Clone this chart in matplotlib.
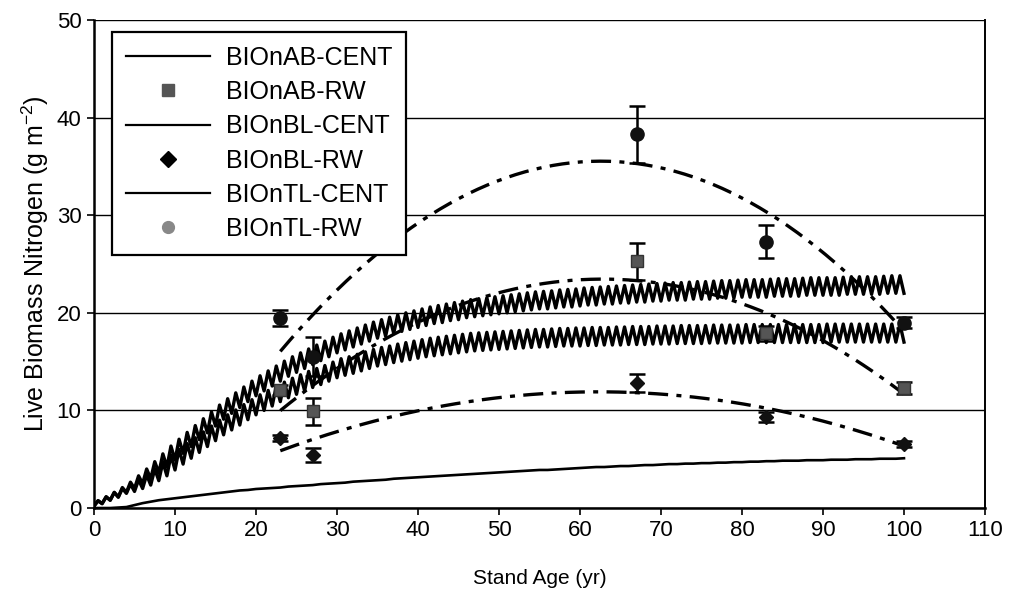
import numpy as np
import matplotlib
matplotlib.use("Agg")
import matplotlib.pyplot as plt
from matplotlib.lines import Line2D

plt.rcParams['font.family'] = ['Liberation Sans', 'DejaVu Sans']

# ---- CENTURY model output: winter (integer years) and summer (mid-year) values ----
tl_lo = [0.2, 0.45, 0.8, 1.15, 1.6, 2.0, 2.5, 3.0, 3.6, 4.2, 4.9, 5.6, 6.3, 7.0, 7.7, 8.4, 9.1, 9.7,
         10.3, 10.9, 11.5, 12.0, 12.5, 13.0, 13.5, 13.9, 14.3, 14.7, 15.1, 15.5, 15.9, 16.2, 16.5,
         16.8, 17.1, 17.4, 17.6, 17.9, 18.1, 18.3, 18.5, 18.7, 18.9, 19.0, 19.2, 19.3, 19.5, 19.6,
         19.7, 19.8, 19.9, 20.0, 20.1, 20.2, 20.3, 20.4, 20.4, 20.5, 20.6, 20.6, 20.7, 20.8, 20.8,
         20.9, 20.9, 21.0, 21.0, 21.1, 21.1, 21.2, 21.2, 21.3, 21.3, 21.3, 21.4, 21.4, 21.4, 21.5,
         21.5, 21.5, 21.6, 21.6, 21.6, 21.6, 21.7, 21.7, 21.7, 21.7, 21.8, 21.8, 21.8, 21.8, 21.8,
         21.9, 21.9, 21.9, 21.9, 21.9, 22.0, 22.0, 22.0]
tl_hi = [0.75, 1.15, 1.6, 2.1, 2.65, 3.3, 4.0, 4.75, 5.55, 6.35, 7.05, 7.75, 8.45, 9.15, 9.85, 10.55,
         11.2, 11.8, 12.4, 13.0, 13.55, 14.05, 14.55, 15.05, 15.5, 15.9, 16.3, 16.7, 17.1, 17.5,
         17.85, 18.15, 18.45, 18.75, 19.05, 19.3, 19.55, 19.8, 20.0, 20.2, 20.4, 20.6, 20.75, 20.9,
         21.05, 21.2, 21.35, 21.45, 21.55, 21.65, 21.75, 21.85, 21.95, 22.05, 22.15, 22.2, 22.25,
         22.35, 22.4, 22.45, 22.55, 22.6, 22.65, 22.7, 22.75, 22.8, 22.85, 22.9, 22.95, 23.0, 23.05,
         23.1, 23.1, 23.15, 23.2, 23.2, 23.25, 23.3, 23.3, 23.35, 23.4, 23.4, 23.4, 23.45, 23.5,
         23.5, 23.5, 23.55, 23.6, 23.6, 23.6, 23.6, 23.65, 23.7, 23.7, 23.7, 23.7, 23.75, 23.8, 23.8]

ab_lo = [0.2, 0.45, 0.8, 1.1, 1.5, 1.7, 2.0, 2.35, 2.8, 3.3, 3.9, 4.5, 5.1, 5.7, 6.3, 6.9, 7.5, 8.0,
         8.5, 9.05, 9.55, 10.0, 10.45, 10.9, 11.3, 11.65, 12.0, 12.35, 12.65, 13.0, 13.35, 13.6,
         13.8, 14.05, 14.3, 14.55, 14.7, 14.9, 15.05, 15.2, 15.35, 15.5, 15.6, 15.7, 15.8, 15.9,
         16.0, 16.1, 16.15, 16.2, 16.25, 16.3, 16.35, 16.4, 16.45, 16.5, 16.5, 16.55, 16.6, 16.6,
         16.6, 16.65, 16.65, 16.7, 16.7, 16.7, 16.75, 16.75, 16.75, 16.8, 16.8, 16.8, 16.85, 16.85,
         16.85, 16.85, 16.9, 16.9, 16.9, 16.9, 16.9, 16.95, 16.95, 16.95, 16.95, 16.95, 16.95,
         16.95, 16.95, 16.95, 16.95, 17.0, 17.0, 17.0, 17.0, 17.0, 17.0, 17.0, 17.0, 17.0, 17.0]
ab_hi = [0.75, 1.15, 1.6, 2.0, 2.45, 2.9, 3.4, 4.0, 4.7, 5.4, 6.0, 6.6, 7.2, 7.8, 8.4, 9.0, 9.55,
         10.05, 10.6, 11.1, 11.6, 12.05, 12.5, 12.9, 13.3, 13.65, 14.0, 14.3, 14.6, 14.95, 15.3,
         15.5, 15.75, 16.0, 16.25, 16.45, 16.6, 16.8, 16.95, 17.1, 17.25, 17.4, 17.5, 17.6, 17.7,
         17.8, 17.9, 17.95, 18.0, 18.05, 18.1, 18.15, 18.2, 18.25, 18.3, 18.3, 18.35, 18.4, 18.4,
         18.45, 18.45, 18.5, 18.5, 18.5, 18.55, 18.55, 18.6, 18.6, 18.6, 18.65, 18.65, 18.65, 18.7,
         18.7, 18.7, 18.7, 18.75, 18.75, 18.75, 18.75, 18.8, 18.8, 18.8, 18.8, 18.8, 18.8, 18.8,
         18.8, 18.8, 18.8, 18.85, 18.85, 18.85, 18.85, 18.85, 18.85, 18.85, 18.85, 18.85, 18.85]

bl_cent = [0.0, 0.0, 0.0, 0.05, 0.1, 0.3, 0.5, 0.65, 0.8, 0.9, 1.0, 1.1, 1.2, 1.3, 1.4, 1.5, 1.6,
           1.7, 1.8, 1.85, 1.95, 2.0, 2.05, 2.1, 2.2, 2.25, 2.3, 2.35, 2.45, 2.5, 2.55, 2.6, 2.7,
           2.75, 2.8, 2.85, 2.9, 3.0, 3.05, 3.1, 3.15, 3.2, 3.25, 3.3, 3.35, 3.4, 3.45, 3.5, 3.55,
           3.6, 3.65, 3.7, 3.75, 3.8, 3.85, 3.9, 3.9, 3.95, 4.0, 4.05, 4.1, 4.15, 4.2, 4.2, 4.25,
           4.3, 4.3, 4.35, 4.4, 4.4, 4.45, 4.5, 4.5, 4.55, 4.55, 4.6, 4.6, 4.65, 4.65, 4.7, 4.7,
           4.75, 4.75, 4.8, 4.8, 4.85, 4.85, 4.85, 4.9, 4.9, 4.9, 4.95, 4.95, 4.95, 5.0, 5.0, 5.0,
           5.05, 5.05, 5.05, 5.1]

# ---- Field (RW) measurements ----
rw_age = [23, 27, 67, 83, 100]
ab_rw = [12.1, 9.9, 25.3, 17.9, 12.3]
ab_rw_err = [0.5, 1.4, 1.9, 0.8, 0.6]
bl_rw = [7.2, 5.4, 12.8, 9.3, 6.6]
bl_rw_err = [0.3, 0.7, 0.9, 0.5, 0.3]
tl_rw = [19.5, 15.5, 38.3, 27.3, 19.0]
tl_rw_err = [0.8, 2.0, 2.9, 1.7, 0.6]

x_ticks = list(range(0, 111, 10))
y_ticks = list(range(0, 51, 10))


def seasonal(lo, hi):
    """Interleave winter and summer values into one time series."""
    t_lo = np.arange(len(lo), dtype=float)
    t_hi = np.arange(len(hi), dtype=float) + 0.5
    t = np.concatenate([t_lo, t_hi])
    v = np.concatenate([lo, hi])
    order = np.argsort(t)
    return t[order], v[order]


fig = plt.figure(figsize=(10.12, 6.03), dpi=100)
ax = fig.add_axes([0.0929, 0.1575, 0.8804, 0.8093])

# model curves
t, v = seasonal(tl_lo, tl_hi)
ax.plot(t, v, color='black', lw=2.4, zorder=3)
t, v = seasonal(ab_lo, ab_hi)
ax.plot(t, v, color='black', lw=2.4, zorder=3)
ax.plot(np.arange(len(bl_cent)), bl_cent, color='black', lw=1.9, zorder=3)

# quadratic trend lines through the field data
dash = (0, (6, 2.5, 1.5, 2.5))
xs = np.linspace(min(rw_age), max(rw_age), 200)
for vals in (tl_rw, ab_rw, bl_rw):
    coef = np.polyfit(rw_age, vals, 2)
    ax.plot(xs, np.polyval(coef, xs), color='black', lw=2.4, linestyle=dash, zorder=3)

# field measurements with error bars
ekw = dict(ecolor='black', elinewidth=1.8, capsize=5.5, capthick=1.8, linestyle='none', zorder=5)
ax.errorbar(rw_age, tl_rw, yerr=tl_rw_err, marker='o', ms=9.5, mfc='#111111', mec='#111111', **ekw)
ax.errorbar(rw_age, ab_rw, yerr=ab_rw_err, marker='s', ms=8, mfc='#555555', mec='#333333', **ekw)
ax.errorbar(rw_age, bl_rw, yerr=bl_rw_err, marker='D', ms=7.5, mfc='#111111', mec='#111111', **ekw)

ax.set_xlim(0, 110)
ax.set_ylim(0, 50)
ax.set_xticks(x_ticks)
ax.set_yticks(y_ticks)
ax.tick_params(axis='both', direction='out', length=5, width=1.2, labelsize=16, colors='black')
ax.tick_params(axis='y', pad=4)
ax.yaxis.grid(True, color='black', lw=1.0)
ax.set_axisbelow(True)
for side in ('left', 'bottom'):
    ax.spines[side].set_linewidth(1.8)
ax.spines['right'].set_linewidth(1.4)
ax.spines['top'].set_visible(False)

ax.set_xlabel('Stand Age (yr)', fontsize=15, labelpad=20)
ax.set_ylabel(r'Live Biomass Nitrogen (g m$^{\mathregular{-2}}$)', fontsize=18, labelpad=4)

handles = [
    Line2D([], [], color='black', lw=1.6),
    Line2D([], [], color='#555555', marker='s', ms=8, linestyle='none'),
    Line2D([], [], color='black', lw=1.6),
    Line2D([], [], color='black', marker='D', ms=8, linestyle='none'),
    Line2D([], [], color='black', lw=1.6),
    Line2D([], [], color='#888888', marker='o', ms=8.5, linestyle='none'),
]
labels = ['BIOnAB-CENT', 'BIOnAB-RW', 'BIOnBL-CENT', 'BIOnBL-RW', 'BIOnTL-CENT', 'BIOnTL-RW']
leg = ax.legend(handles, labels, loc='upper left', bbox_to_anchor=(0.02, 0.975), fontsize=18,
                handlelength=3.36, labelspacing=0.41, handletextpad=0.64, borderpad=0.55,
                borderaxespad=0.0, frameon=True, fancybox=False, edgecolor='black',
                framealpha=1)
leg.get_frame().set_linewidth(1.6)
leg.set_zorder(10)

fig.savefig('out.png', dpi=100)
